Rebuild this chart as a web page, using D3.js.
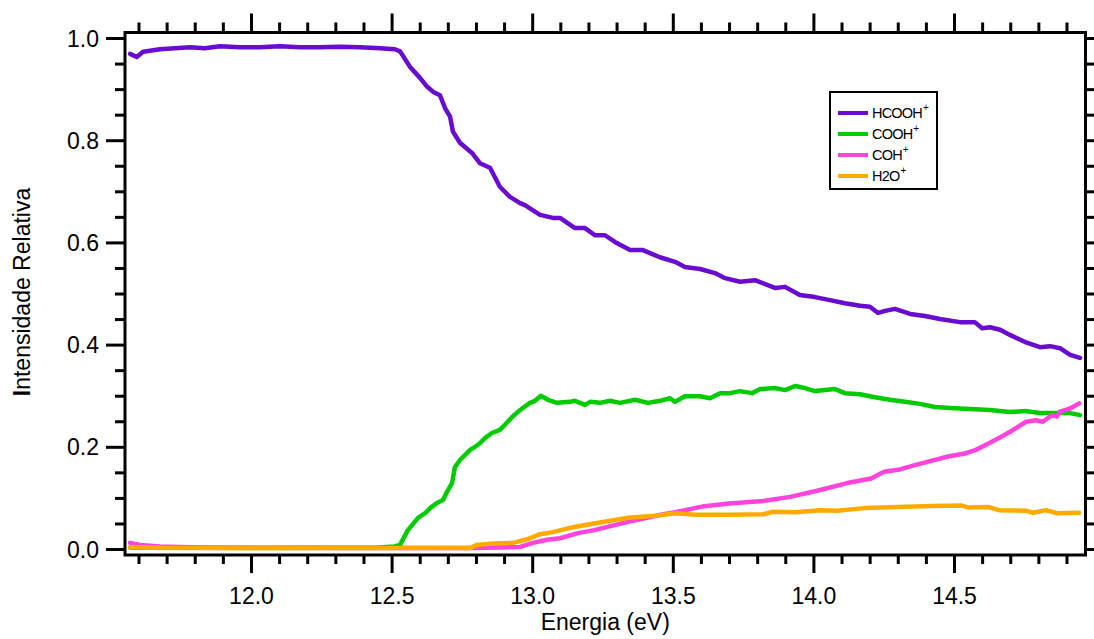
<!DOCTYPE html>
<html>
<head>
<meta charset="utf-8">
<script src="https://cdn.jsdelivr.net/npm/d3@7"></script>
<style>
  html, body { margin: 0; padding: 0; background: #fff; }
  svg { display: block; }
  text { font-family: "Liberation Sans", Arial, Helvetica, sans-serif; fill: #000; }
</style>
</head>
<body>
<svg id="chart" width="1094" height="639"></svg>
<script>
// ---- data ----
const hcoohE = [11.570,11.594,11.616,11.641,11.676,11.729,11.783,11.836,11.890,11.960,12.032,12.103,12.174,12.245,12.316,12.387,12.459,12.512,
  12.530,12.565,12.601,12.626,12.647,12.672,12.690,12.708,12.718,12.743,12.786,12.814,12.850,12.885,12.921,12.957,12.974,13.028,13.074,13.099,
  13.152,13.188,13.223,13.259,13.294,13.348,13.394,13.419,13.454,13.508,13.543,13.597,13.650,13.686,13.739,13.792,13.863,13.899,13.952,14.006,
  14.059,14.112,14.166,14.201,14.230,14.255,14.290,14.344,14.397,14.450,14.521,14.574,14.600,14.628,14.664,14.699,14.753,14.806,14.841,14.877,14.913,14.948];
const hcoohI = [0.969,0.963,0.973,0.975,0.978,0.980,0.982,0.980,0.984,0.982,0.982,0.984,0.982,0.982,0.983,0.982,0.980,0.978,
  0.974,0.944,0.922,0.905,0.895,0.888,0.863,0.846,0.817,0.795,0.775,0.755,0.746,0.709,0.689,0.677,0.673,0.654,0.648,0.648,
  0.628,0.628,0.614,0.614,0.601,0.585,0.585,0.579,0.571,0.562,0.552,0.548,0.540,0.530,0.523,0.526,0.511,0.513,0.497,0.493,
  0.487,0.481,0.476,0.474,0.462,0.466,0.470,0.460,0.456,0.450,0.444,0.444,0.432,0.434,0.429,0.419,0.405,0.395,0.397,0.393,0.380,0.374];

const coohE = [11.570,12.000,12.450,12.510,12.530,12.558,12.594,12.619,12.637,12.661,12.683,12.697,12.715,12.725,12.743,12.761,12.779,12.797,
  12.814,12.832,12.857,12.885,12.903,12.928,12.957,12.992,13.010,13.031,13.056,13.088,13.134,13.152,13.188,13.206,13.241,13.277,13.312,13.366,
  13.412,13.454,13.490,13.508,13.543,13.597,13.632,13.668,13.703,13.739,13.782,13.810,13.863,13.899,13.935,13.970,14.006,14.041,14.077,14.112,
  14.166,14.219,14.272,14.326,14.379,14.432,14.486,14.557,14.628,14.699,14.753,14.806,14.841,14.877,14.913,14.948];
const coohI = [0.003,0.002,0.003,0.005,0.008,0.037,0.061,0.070,0.080,0.090,0.096,0.112,0.129,0.160,0.174,0.184,0.194,0.200,
  0.207,0.217,0.227,0.233,0.243,0.258,0.272,0.286,0.290,0.300,0.292,0.286,0.288,0.290,0.282,0.288,0.286,0.290,0.286,0.292,
  0.286,0.290,0.295,0.288,0.299,0.299,0.295,0.305,0.305,0.309,0.305,0.313,0.315,0.311,0.319,0.315,0.309,0.311,0.313,0.305,
  0.303,0.297,0.292,0.288,0.284,0.278,0.276,0.274,0.272,0.268,0.270,0.266,0.266,0.266,0.266,0.262];

const cohE = [11.570,11.605,11.676,11.819,12.300,12.797,12.957,13.003,13.053,13.099,13.163,13.220,13.341,13.458,13.518,13.604,13.700,13.821,
  13.917,14.013,14.120,14.205,14.251,14.301,14.361,14.422,14.479,14.539,14.578,14.614,14.660,14.710,14.756,14.792,14.816,14.848,14.866,14.877,14.913,14.945];
const cohI = [0.012,0.008,0.005,0.003,0.002,0.002,0.004,0.012,0.018,0.021,0.031,0.037,0.053,0.067,0.073,0.083,0.089,0.094,
  0.102,0.114,0.129,0.138,0.151,0.155,0.164,0.173,0.181,0.187,0.194,0.204,0.217,0.233,0.249,0.252,0.249,0.262,0.259,0.269,0.275,0.285];

const h2oE = [11.570,11.700,12.200,12.779,12.804,12.861,12.932,12.982,13.028,13.074,13.124,13.159,13.220,13.341,13.437,13.508,13.579,13.700,
  13.821,13.856,13.938,14.023,14.084,14.180,14.301,14.422,14.528,14.553,14.624,14.660,14.756,14.781,14.827,14.866,14.945];
const h2oI = [0.004,0.002,0.002,0.002,0.008,0.011,0.012,0.019,0.029,0.033,0.040,0.044,0.050,0.061,0.065,0.070,0.067,0.067,
  0.068,0.073,0.072,0.076,0.075,0.080,0.082,0.084,0.085,0.081,0.082,0.076,0.075,0.071,0.076,0.070,0.071];

const seriesNames = ["HCOOH", "COOH", "COH", "H2O"];
const seriesColors = ["#6a0cd0", "#00cc00", "#ff44dd", "#ffaa00"];
const xMajorTicks = [12.0, 12.5, 13.0, 13.5, 14.0, 14.5];
const xMinorTicks = [11.6,11.7,11.8,11.9,12.1,12.2,12.3,12.4,12.6,12.7,12.8,12.9,13.1,13.2,13.3,13.4,13.6,13.7,13.8,13.9,14.1,14.2,14.3,14.4,14.6,14.7,14.8,14.9];
const yMajorTicks = [0.0, 0.2, 0.4, 0.6, 0.8, 1.0];
const yMinorTicks = [0.05,0.1,0.15,0.25,0.3,0.35,0.45,0.5,0.55,0.65,0.7,0.75,0.85,0.9,0.95];
const xLabel = "Energia (eV)";
const yLabel = "Intensidade Relativa";

// ---- layout ----
const svg = d3.select("#chart");
const L = 125, R = 1085.5, T = 32.5, B = 555;
const x = d3.scaleLinear().domain([11.552, 14.9676]).range([L, R]);
const y = d3.scaleLinear().domain([-0.01174, 1.0108]).range([B, T]);
const fmt = d3.format(".1f");

function styleAxis(g) {
  g.select(".domain").remove();
  g.selectAll(".tick line").attr("stroke", "#000").attr("stroke-width", 3);
}

// left axis
svg.append("g").attr("transform", `translate(${L - 1},0)`)
  .call(d3.axisLeft(y).tickValues(yMajorTicks).tickSize(18).tickPadding(7).tickFormat(fmt))
  .call(styleAxis)
  .call(g => g.selectAll("text").attr("font-size", 23).attr("font-family", "Liberation Sans, Arial, sans-serif").attr("fill", "#000").attr("dy", "0.35em"));
svg.append("g").attr("transform", `translate(${L - 1},0)`)
  .call(d3.axisLeft(y).tickValues(yMinorTicks).tickSize(9).tickFormat(""))
  .call(styleAxis);

// right axis
svg.append("g").attr("transform", `translate(${R + 1},0)`)
  .call(d3.axisRight(y).tickValues(yMajorTicks.concat(yMinorTicks)).tickSize(9).tickFormat(""))
  .call(styleAxis);

// bottom axis
svg.append("g").attr("transform", `translate(0,${B + 1})`)
  .call(d3.axisBottom(x).tickValues(xMajorTicks).tickSize(17).tickFormat(fmt))
  .call(styleAxis)
  .call(g => g.selectAll("text").attr("font-size", 23).attr("font-family", "Liberation Sans, Arial, sans-serif").attr("fill", "#000").attr("y", 48).attr("dy", 0));
svg.append("g").attr("transform", `translate(0,${B + 1})`)
  .call(d3.axisBottom(x).tickValues(xMinorTicks).tickSize(8).tickFormat(""))
  .call(styleAxis);

// top axis
svg.append("g").attr("transform", `translate(0,${T - 1})`)
  .call(d3.axisTop(x).tickValues(xMajorTicks).tickSize(18).tickFormat(""))
  .call(styleAxis);
svg.append("g").attr("transform", `translate(0,${T - 1})`)
  .call(d3.axisTop(x).tickValues(xMinorTicks).tickSize(9).tickFormat(""))
  .call(styleAxis);

// clip
svg.append("clipPath").attr("id", "plotclip")
  .append("rect").attr("x", L).attr("y", T).attr("width", R - L).attr("height", B - T);

// lines
const seriesData = [
  {name: seriesNames[0], color: seriesColors[0], e: hcoohE, v: hcoohI},
  {name: seriesNames[1], color: seriesColors[1], e: coohE, v: coohI},
  {name: seriesNames[2], color: seriesColors[2], e: cohE, v: cohI},
  {name: seriesNames[3], color: seriesColors[3], e: h2oE, v: h2oI}
];
const line = d3.line().x(d => x(d[0])).y(d => y(d[1]));
const drawOrder = [1, 2, 3, 0];
const gLines = svg.append("g").attr("clip-path", "url(#plotclip)");
drawOrder.forEach(i => {
  const s = seriesData[i];
  gLines.append("path")
    .datum(s.e.map((e, k) => [e, s.v[k]]))
    .attr("d", line)
    .attr("fill", "none")
    .attr("stroke", s.color)
    .attr("stroke-width", 4.5)
    .attr("stroke-linejoin", "round")
    .attr("stroke-linecap", "round");
});

// frame
svg.append("rect").attr("x", L).attr("y", T).attr("width", R - L).attr("height", B - T)
  .attr("fill", "none").attr("stroke", "#000").attr("stroke-width", 3);

// legend
const lg = svg.append("g").attr("transform", "translate(830,92)");
lg.append("rect").attr("x", 0).attr("y", 0).attr("width", 107).attr("height", 97)
  .attr("fill", "#fff").attr("stroke", "#000").attr("stroke-width", 2);
seriesData.forEach((s, i) => {
  const yy = 21 + i * 21;
  lg.append("line").attr("x1", 8).attr("x2", 38).attr("y1", yy).attr("y2", yy)
    .attr("stroke", s.color).attr("stroke-width", 4);
  const t = lg.append("text").attr("x", 42).attr("y", yy + 5)
    .attr("font-size", 14.5).attr("letter-spacing", "-0.8px");
  t.append("tspan").text(s.name);
  t.append("tspan").text("+").attr("font-size", 10).attr("dy", -7).attr("dx", 1);
});

// axis titles
svg.append("text").attr("x", (L + R) / 2).attr("y", 630)
  .attr("text-anchor", "middle").attr("font-size", 23).text(xLabel);
const yt = svg.append("text")
  .attr("transform", "translate(30,292) rotate(-90)")
  .attr("text-anchor", "middle").attr("font-size", 23);
yt.append("tspan").attr("font-weight", "bold").text(yLabel.charAt(0));
yt.append("tspan").text(yLabel.slice(1));
</script>
</body>
</html>
